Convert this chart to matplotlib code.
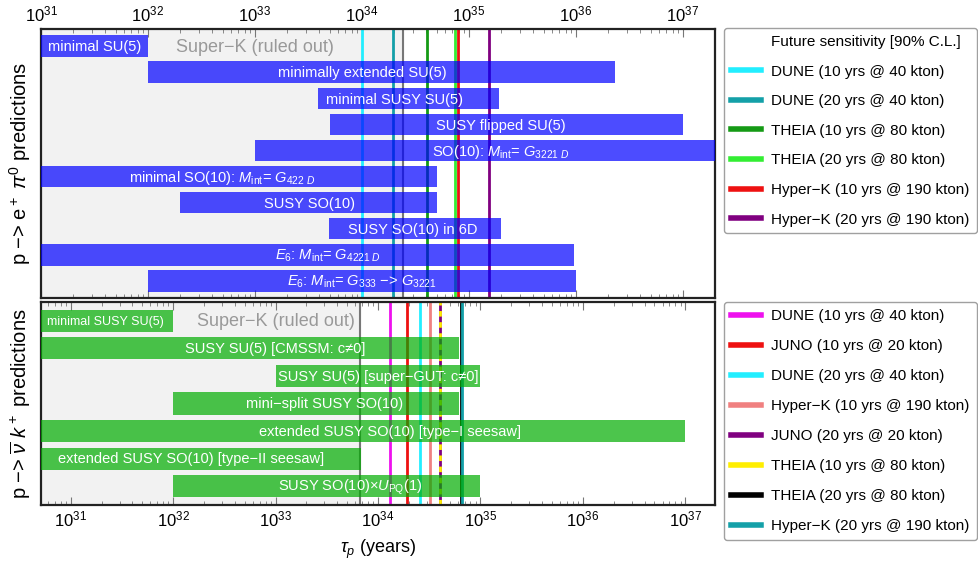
import matplotlib
matplotlib.use("Agg")
import matplotlib.pyplot as plt
from matplotlib.lines import Line2D
from matplotlib.ticker import NullFormatter, FixedLocator
import numpy as np

plt.rcParams['font.family'] = ['Liberation Sans', 'DejaVu Sans']
plt.rcParams['mathtext.fontset'] = 'custom'
plt.rcParams['mathtext.rm'] = 'Liberation Sans'
plt.rcParams['mathtext.it'] = 'Liberation Sans:italic'
plt.rcParams['mathtext.bf'] = 'Liberation Sans:bold'

# ---------------- tick values ----------------
tick_exponents = [31, 32, 33, 34, 35, 36, 37]
tick_labels = [r"$10^{%d}$" % e for e in tick_exponents]

# ---------------- data: p -> e+ pi0 ----------------
top_models = ["minimal SU(5)", "minimally extended SU(5)", "minimal SUSY SU(5)",
              "SUSY flipped SU(5)", r"SO(10): $M_{\rm int}$= $G_{3221\ D}$",
              r"minimal SO(10): $M_{\rm int}$= $G_{422\ D}$", "SUSY SO(10)",
              "SUSY SO(10) in 6D", r"$E_6$: $M_{\rm int}$= $G_{4221\ D}$",
              r"$E_6$: $M_{\rm int}$= $G_{333}$ −> $G_{3221}$"]
top_lo = [1e30, 1e32, 3.9e33, 5e33, 1e33, 1e30, 2e32, 4.9e33, 1e30, 1e32]
top_hi = [1e32, 2.3e36, 1.9e35, 1e37, 1e38, 5e34, 5e34, 2e35, 9.5e35, 1e36]
top_label_x = [3.2e31, 1e34, 2e34, 2e35, 2e35, 4.9e32, 3.2e33, 3e34, 4.8e33, 1e34]

top_exp = ["DUNE (10 yrs @ 40 kton)", "DUNE (20 yrs @ 40 kton)",
           "THEIA (10 yrs @ 80 kton)", "THEIA (20 yrs @ 80 kton)",
           "Hyper−K (10 yrs @ 190 kton)", "Hyper−K (20 yrs @ 190 kton)"]
top_sens = [1.0e34, 1.96e34, 4.1e34, 7.4e34, 7.9e34, 1.55e35]
top_colors = ["#22eeff", "#14a0a8", "#159a15", "#33ee33", "#ee1111", "#800080"]
superk_top = 2.4e34

# ---------------- data: p -> nubar K+ ----------------
bot_models = ["minimal SUSY SU(5)", "SUSY SU(5) [CMSSM: c≠0]",
              "SUSY SU(5) [super−GUT: c≠0]", "mini−split SUSY SO(10)",
              "extended SUSY SO(10) [type−I seesaw]",
              "extended SUSY SO(10) [type−II seesaw]",
              r"SUSY SO(10)×$U_{\rm PQ}$(1)"]
bot_lo = [1e30, 1e30, 1e33, 1e32, 1e30, 1e30, 1e32]
bot_hi = [1e32, 6.2e34, 1e35, 6.2e34, 1e37, 6.8e33, 1e35]
bot_label_x = [2.2e31, 1e33, 1e34, 3e33, 1.3e34, 1.5e32, 5.4e33]

bot_exp = ["DUNE (10 yrs @ 40 kton)", "JUNO (10 yrs @ 20 kton)",
           "DUNE (20 yrs @ 40 kton)", "Hyper−K (10 yrs @ 190 kton)",
           "JUNO (20 yrs @ 20 kton)", "THEIA (10 yrs @ 80 kton)",
           "THEIA (20 yrs @ 80 kton)", "Hyper−K (20 yrs @ 190 kton)"]
bot_sens = [1.3e34, 1.9e34, 2.6e34, 3.2e34, 4.0e34, 4.0e34, 6.4e34, 6.6e34]
bot_colors = ["#ee11ee", "#ee1111", "#22eeff", "#f08080", "#800080",
              "#ffee00", "#000000", "#14a0a8"]
bot_dashed = [False, False, False, False, False, True, False, False]
superk_bot = 6.6e33

top_xlim = (1e31, 10**37.3)
bot_xlim = (10**30.71, 10**37.29)

fig = plt.figure(figsize=(9.79, 5.63), dpi=100)
ax1 = fig.add_axes([0.0419, 0.4707, 0.6884, 0.4778])
ax2 = fig.add_axes([0.0419, 0.1030, 0.6884, 0.3606])

bar_face = (0.0, 0.0, 1.0, 0.7)
green_face = (0.0, 0.68, 0.0, 0.7)

def style_axis(ax, labeltop, xlim):
    ax.set_xscale('log')
    ax.set_xlim(*xlim)
    major = [10.0 ** e for e in tick_exponents]
    ax.xaxis.set_major_locator(FixedLocator(major))
    ax.set_xticks(major, tick_labels)
    lo_e, hi_e = np.log10(xlim[0]), np.log10(xlim[1])
    minor = [m * 10.0 ** e for e in range(30, 38) for m in range(2, 10)
             if lo_e < np.log10(m * 10.0 ** e) < hi_e]
    ax.set_xticks(minor, minor=True)
    ax.xaxis.set_minor_formatter(NullFormatter())
    ax.set_xlim(*xlim)
    ax.set_yticks([])
    ax.tick_params(which='both', direction='in', top=True, bottom=True,
                   left=False, right=False,
                   labeltop=labeltop, labelbottom=not labeltop,
                   labelsize=12, color='#777777')
    ax.tick_params(which='major', length=6, width=0.8)
    ax.tick_params(which='minor', length=3, width=0.6)
    for s in ax.spines.values():
        s.set_linewidth(1.6)
        s.set_color('#222222')

# ---------- top panel ----------
ax = ax1
ax.set_xscale('log')
ax.set_xlim(*top_xlim)
ax.set_ylim(9.654, -0.654)
ax.axvspan(1e29, superk_top, color='#f2f2f2', zorder=0)
ax.axvline(superk_top, color='#777777', lw=1.5, zorder=1)
for xs, c in zip(top_sens, top_colors):
    ax.axvline(xs, color=c, lw=2.0, zorder=2)
y = np.arange(len(top_models))
ax.barh(y, np.array(top_hi) - np.array(top_lo), left=top_lo, height=0.82,
        color=bar_face, zorder=3)
for yi, name, lx in zip(y, top_models, top_label_x):
    ax.text(lx, yi + 0.05, name, color='white', ha='center', va='center',
            fontsize=10.5, zorder=4)
ax.text(1e33, 0.05, "Super−K (ruled out)", color='#999999', ha='center',
        va='center', fontsize=13, zorder=4)
style_axis(ax, True, top_xlim)
ax.set_ylabel(r"p −> e$^+$ $\pi^0$ predictions", fontsize=14.5, labelpad=6)

# ---------- bottom panel ----------
ax = ax2
ax.set_xscale('log')
ax.set_xlim(*bot_xlim)
ax.set_ylim(6.69, -0.69)
ax.axvspan(1e29, superk_bot, color='#f2f2f2', zorder=0)
ax.axvline(superk_bot, color='#777777', lw=1.5, zorder=1)
for xs, c, d in zip(bot_sens, bot_colors, bot_dashed):
    if d:
        ax.axvline(xs, color=c, lw=2.0, zorder=2.5, dashes=(2, 2))
    else:
        ax.axvline(xs, color=c, lw=2.0, zorder=2)
y = np.arange(len(bot_models))
ax.barh(y, np.array(bot_hi) - np.array(bot_lo), left=bot_lo, height=0.8,
        color=green_face, zorder=3)
for yi, name, lx in zip(y, bot_models, bot_label_x):
    ax.text(lx, yi + 0.03, name, color='white', ha='center', va='center',
            fontsize=9 if yi == 0 else 10.5, zorder=4)
ax.text(1e33, 0.03, "Super−K (ruled out)", color='#999999', ha='center',
        va='center', fontsize=13, zorder=4)
style_axis(ax, False, bot_xlim)
ax.set_ylabel(r"p −> $\overline{\nu}$ $k^+$ predictions", fontsize=14.5, labelpad=6)
ax.set_xlabel(r"$\tau_p$ (years)", fontsize=13, labelpad=6)

# ---------- legends ----------
h1 = [Line2D([], [], color='none', lw=0)] + \
     [Line2D([], [], color=c, lw=4) for c in top_colors]
l1 = ["Future sensitivity [90% C.L.]"] + top_exp
leg1 = fig.legend(h1, l1, loc='upper left', bbox_to_anchor=(0.7395, 0.950),
                  borderaxespad=0, fontsize=11, frameon=True, fancybox=True,
                  handlelength=2.0, labelspacing=1.02, borderpad=0.45,
                  handletextpad=0.65)
leg1.get_frame().set_edgecolor('#888888')

h2 = [Line2D([], [], color=c, lw=4) for c in bot_colors]
leg2 = fig.legend(h2, bot_exp, loc='upper left', bbox_to_anchor=(0.7395, 0.4636),
                  borderaxespad=0, fontsize=11, frameon=True, fancybox=True,
                  handlelength=2.0, labelspacing=1.05, borderpad=0.45,
                  handletextpad=0.65)
leg2.get_frame().set_edgecolor('#888888')

fig.savefig("out.png", dpi=100)
